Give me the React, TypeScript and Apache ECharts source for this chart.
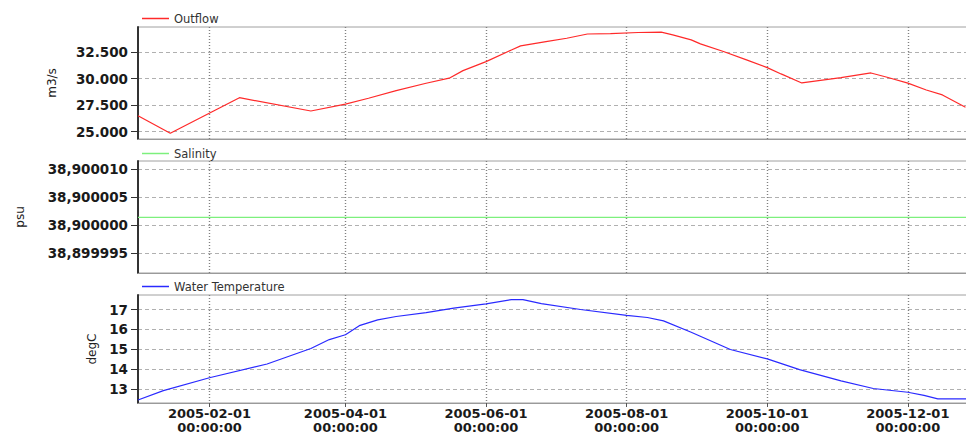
import React, { useEffect, useRef } from "react";
import * as echarts from "echarts";

// ---- Data ----
const X_MIN = "2005-01-01";
const X_MAX = "2005-12-31";
const X_TICKS = ["2005-02-01", "2005-04-01", "2005-06-01", "2005-08-01", "2005-10-01", "2005-12-01"];

const OUTFLOW_DATES = [
  "2005-01-01", "2005-01-15", "2005-02-14", "2005-03-17", "2005-04-01", "2005-04-11",
  "2005-04-23", "2005-05-06", "2005-05-16", "2005-05-22", "2005-06-01", "2005-06-12",
  "2005-06-16", "2005-06-27", "2005-07-06", "2005-07-15", "2005-07-25", "2005-08-06",
  "2005-08-16", "2005-08-21", "2005-08-29", "2005-09-02", "2005-09-12", "2005-09-22",
  "2005-10-01", "2005-10-07", "2005-10-16", "2005-11-02", "2005-11-15", "2005-11-22",
  "2005-12-01", "2005-12-09", "2005-12-16", "2005-12-26",
];
const OUTFLOW = [
  26500, 24850, 28200, 26950, 27600, 28150,
  28870, 29560, 30040, 30750, 31600, 32700,
  33080, 33490, 33800, 34200, 34240, 34340,
  34370, 34120, 33650, 33270, 32550, 31760,
  31030, 30440, 29590, 30090, 30530, 30130,
  29570, 28930, 28460, 27300,
];

const SALINITY_DATES = ["2005-01-01", "2005-04-01", "2005-08-01", "2005-12-31"];
const SALINITY = [38.9000014, 38.9000014, 38.9000014, 38.9000014];

const TEMP_DATES = [
  "2005-01-01", "2005-01-12", "2005-02-01", "2005-02-26", "2005-03-17", "2005-03-25",
  "2005-04-01", "2005-04-07", "2005-04-15", "2005-04-23", "2005-05-06", "2005-05-18",
  "2005-06-01", "2005-06-12", "2005-06-17", "2005-06-25", "2005-07-12", "2005-08-01",
  "2005-08-10", "2005-08-17", "2005-08-29", "2005-09-15", "2005-10-01", "2005-10-15",
  "2005-11-02", "2005-11-16", "2005-12-01", "2005-12-08", "2005-12-14", "2005-12-31",
];
const TEMP = [
  12.45, 12.92, 13.57, 14.26, 15.04, 15.49,
  15.73, 16.19, 16.48, 16.65, 16.84, 17.07,
  17.28, 17.5, 17.5, 17.3, 17.0, 16.71,
  16.6, 16.43, 15.86, 14.99, 14.52, 13.98,
  13.41, 13.03, 12.84, 12.68, 12.51, 12.51,
];

const OUTFLOW_TICKS = [25000, 27500, 30000, 32500];
const SALINITY_TICKS = [38.899995, 38.9, 38.900005, 38.90001];
const TEMP_TICKS = [13, 14, 15, 16, 17];

const SERIES_NAMES = ["Outflow", "Salinity", "Water Temperature"];
const UNITS = ["m3/s", "psu", "degC"];

// ---- Styles ----
const FONT = "DejaVu Sans";
const GRID_TOPS = [27, 161, 295];
const GRID_HEIGHTS = [112, 112, 111];
const COLORS = ["#ff2a2a", "#7df07d", "#2a2aff"];
const CHART_W = 977; // plot area runs past the right edge of the 966px view

function ts(s: string) {
  return new Date(s + "T00:00:00").getTime();
}
function pad(n: number) {
  return n < 10 ? "0" + n : "" + n;
}
function fmtDate(v: number) {
  const d = new Date(v);
  return (
    d.getFullYear() + "-" + pad(d.getMonth() + 1) + "-" + pad(d.getDate()) + "\n" +
    pad(d.getHours()) + ":" + pad(d.getMinutes()) + ":" + pad(d.getSeconds())
  );
}
function fmtThousands(v: number) {
  return Math.round(v).toString().replace(/\B(?=(\d{3})+(?!\d))/g, ".");
}
function fmtSalinity(v: number) {
  return v.toFixed(6).replace(".", ",");
}

export default function App() {
  const ref = useRef<HTMLDivElement>(null);

  useEffect(() => {
    if (!ref.current) return;
    const chart = echarts.init(ref.current, null, { renderer: "svg" });

    const pair = (dates: string[], vals: number[]) => dates.map((d, i) => [ts(d), vals[i]]);
    const xTicks = X_TICKS.map(ts);

    const xAxisFor = (i: number) => ({
      type: "value",
      gridIndex: i,
      min: ts(X_MIN),
      max: ts(X_MAX),
      axisLine: { show: true, onZero: false, lineStyle: { color: "#9a9a9a", width: 1 } },
      axisTick: {
        show: i === 2,
        customValues: xTicks,
        length: 4,
        lineStyle: { color: "#555" },
      },
      axisLabel: {
        show: i === 2,
        customValues: xTicks,
        formatter: (v: number) => fmtDate(v),
        fontFamily: FONT,
        fontWeight: "bold",
        fontSize: 13,
        lineHeight: 14,
        color: "#1a1a1a",
        margin: 3,
      },
      splitLine: {
        show: true,
        lineStyle: { color: "#808080", type: [1, 2], width: 1.4 },
      },
    });

    const yAxisFor = (
      i: number,
      min: number,
      max: number,
      ticks: number[],
      fmt: (v: number) => string,
      nameGap: number
    ) => ({
      type: "value",
      gridIndex: i,
      min,
      max,
      name: UNITS[i],
      nameLocation: "middle",
      nameGap,
      nameTextStyle: { fontFamily: FONT, fontSize: 12, color: "#222" },
      axisLine: { show: true, onZero: false, lineStyle: { color: "#333", width: 2 } },
      axisTick: {
        show: true,
        customValues: ticks,
        length: 7,
        lineStyle: { color: "#333" },
      },
      axisLabel: {
        customValues: ticks,
        formatter: fmt,
        fontFamily: FONT,
        fontWeight: "bold",
        fontSize: 13.5,
        color: "#1a1a1a",
        margin: 10,
      },
      splitLine: {
        show: true,
        lineStyle: { color: "#b0b0b0", type: [4, 3], width: 1 },
      },
    });

    const legendFor = (i: number, top: number) => ({
      data: [SERIES_NAMES[i]],
      left: 142,
      top,
      padding: 0,
      icon: "rect",
      itemWidth: 27,
      itemHeight: 1.5,
      textStyle: { fontFamily: FONT, fontSize: 11.5, color: "#333" },
      selectedMode: false,
    });

    chart.setOption({
      animation: false,
      backgroundColor: "#fff",
      legend: [legendFor(0, 12.5), legendFor(1, 147.5), legendFor(2, 280.5)],
      grid: [0, 1, 2].map((i) => ({
        left: 138,
        right: 0,
        top: GRID_TOPS[i],
        height: GRID_HEIGHTS[i],
        show: true,
        borderColor: "#a0a0a0",
        borderWidth: 1,
        backgroundColor: "transparent",
      })),
      xAxis: [xAxisFor(0), xAxisFor(1), xAxisFor(2)],
      yAxis: [
        yAxisFor(0, 24310, 34860, OUTFLOW_TICKS, fmtThousands, 80),
        yAxisFor(1, 38.8999914, 38.9000115, SALINITY_TICKS, fmtSalinity, 112),
        yAxisFor(2, 12.3, 17.73, TEMP_TICKS, (v: number) => String(v), 40),
      ],
      series: [
        {
          name: SERIES_NAMES[0],
          type: "line",
          xAxisIndex: 0,
          yAxisIndex: 0,
          data: pair(OUTFLOW_DATES, OUTFLOW),
          showSymbol: false,
          lineStyle: { color: COLORS[0], width: 1.2 },
          itemStyle: { color: COLORS[0] },
        },
        {
          name: SERIES_NAMES[1],
          type: "line",
          xAxisIndex: 1,
          yAxisIndex: 1,
          data: pair(SALINITY_DATES, SALINITY),
          showSymbol: false,
          lineStyle: { color: COLORS[1], width: 1.2 },
          itemStyle: { color: COLORS[1] },
        },
        {
          name: SERIES_NAMES[2],
          type: "line",
          xAxisIndex: 2,
          yAxisIndex: 2,
          data: pair(TEMP_DATES, TEMP),
          showSymbol: false,
          lineStyle: { color: COLORS[2], width: 1.2 },
          itemStyle: { color: COLORS[2] },
        },
      ],
    });

    return () => chart.dispose();
  }, []);

  return (
    <div
      style={{
        position: "fixed",
        left: 0,
        top: 0,
        width: 966,
        height: 434,
        overflow: "hidden",
        background: "#fff",
      }}
    >
      <div ref={ref} style={{ width: CHART_W, height: 434 }} />
    </div>
  );
}
